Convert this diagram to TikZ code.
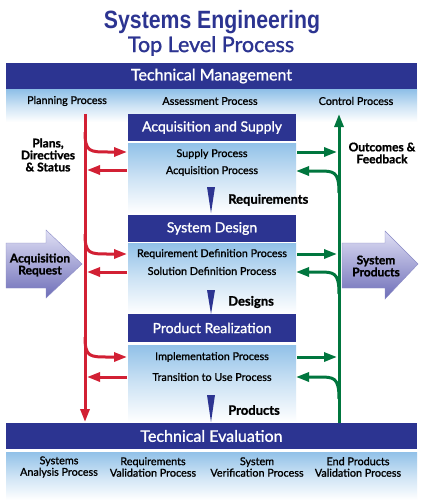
\documentclass[tikz,border=0pt]{standalone}
\usepackage{fontspec}
\setmainfont{Lato}
\newfontfamily\medfont[FakeBold=1.2]{Lato}
\newfontfamily\heavyfont[BoldFeatures={FakeBold=1.2}]{Lato}
\newfontfamily\titlefont[FakeStretch=0.85]{Liberation Sans}
\usetikzlibrary{arrows.meta}
\definecolor{hdr}{RGB}{44,52,145}
\definecolor{pnl}{RGB}{145,193,232}
\definecolor{rd}{RGB}{210,32,52}
\definecolor{gr}{RGB}{0,118,62}
\definecolor{arrlight}{RGB}{224,224,245}
\definecolor{arrdark}{RGB}{110,110,184}
\begin{document}
\begin{tikzpicture}[x=1pt,y=-1pt,
  hdrbar/.style={fill=hdr,text=white,inner sep=0pt,font=\medfont\fontsize{14}{16}\selectfont},
  panel/.style={top color=pnl,bottom color=white,middle color=pnl!45,inner sep=0pt},
  proc/.style={inner sep=0pt,font=\medfont\fontsize{10.8}{12}\selectfont},
  lbl/.style={inner sep=0pt,font=\heavyfont\bfseries\fontsize{12}{12}\selectfont},
  redarr/.style={draw=rd,line width=3pt,-{Triangle[length=13pt,width=9pt]}},
  grnarr/.style={draw=gr,line width=3pt,-{Triangle[length=13pt,width=9pt]}},
  marker/.style={fill=hdr},
  bigarrow/.style={top color=arrlight,bottom color=arrdark,draw=arrdark!80,line width=0.4pt}
]
\useasboundingbox (0,0) rectangle (427,500);
\fill[white] (0,0) rectangle (427,500);

% title
\node[inner sep=0pt,text=hdr,font=\titlefont\bfseries\fontsize{25}{28}\selectfont] (t1) at (212,22) {Systems Engineering};
\node[inner sep=0pt,text=hdr,font=\medfont\fontsize{21.5}{24}\selectfont] (t2) at (211,46) {Top Level Process};

% technical management
\node[panel,minimum width=411pt,minimum height=32pt] (tmp) at (211.5,106) {};
\node[hdrbar,minimum width=411pt,minimum height=26pt,font=\medfont\fontsize{16}{18}\selectfont] (tm) at (211.5,76) {Technical Management};
\node[proc] (pp) at (67,101) {Planning Process};
\node[proc] (ap) at (210,101) {Assessment Process};
\node[proc] (cp) at (356,101) {Control Process};

% stage panels
\node[panel,minimum width=168pt,minimum height=70pt] (acqp) at (212,178) {};
\node[panel,minimum width=168pt,minimum height=71pt] (sdp) at (212,278.5) {};
\node[panel,minimum width=168pt,minimum height=77pt] (prp) at (212,383.5) {};

\node[hdrbar,minimum width=168pt,minimum height=27pt] (acq) at (212,127.5) {Acquisition and Supply};
\node[hdrbar,minimum width=168pt,minimum height=27pt] (sd) at (212,228.5) {System Design};
\node[hdrbar,minimum width=168pt,minimum height=28pt] (pr) at (212,328) {Product Realization};

\node[proc] (sp) at (212,154) {Supply Process};
\node[proc] (aqp) at (212,171) {Acquisition Process};
\node[proc] (rdp) at (212,254) {Requirement Definition Process};
\node[proc] (sdfp) at (212,271) {Solution Definition Process};
\node[proc] (ip) at (212,357) {Implementation Process};
\node[proc] (tup) at (212,377) {Transition to Use Process};

% down markers
\fill[marker] (207,187) -- (215,187) -- (211,213) -- cycle;
\fill[marker] (207,290) -- (215,290) -- (211,314) -- cycle;
\fill[marker] (207,395) -- (215,395) -- (211,422) -- cycle;
\node[lbl,anchor=west,font=\heavyfont\bfseries\fontsize{13}{13}\selectfont] (lr) at (228,200) {Requirements};
\node[lbl,anchor=west,font=\heavyfont\bfseries\fontsize{13}{13}\selectfont] (ld) at (228,302) {Designs};
\node[lbl,anchor=west,font=\heavyfont\bfseries\fontsize{13}{13}\selectfont] (lp) at (228,410) {Products};

% technical evaluation
\node[panel,minimum width=411pt,minimum height=48pt] (tep) at (211.5,476) {};
\node[hdrbar,minimum width=411pt,minimum height=26pt,font=\medfont\fontsize{16}{18}\selectfont] (te) at (211.5,436) {Technical Evaluation};
\node[proc,align=center,font=\medfont\fontsize{10.8}{11.5}\selectfont] (e1) at (59,467) {Systems\\Analysis Process};
\node[proc,align=center,font=\medfont\fontsize{10.8}{11.5}\selectfont] (e2) at (153,467) {Requirements\\Validation Process};
\node[proc,align=center,font=\medfont\fontsize{10.8}{11.5}\selectfont] (e3) at (257,467) {System\\Verification Process};
\node[proc,align=center,font=\medfont\fontsize{10.8}{11.5}\selectfont] (e4) at (358,467) {End Products\\Validation Process};

% red flow
\coordinate (rtop) at (85,114);
\coordinate (rbot) at (85,422);
\draw[redarr] (rtop) -- (rbot);
\foreach \ya/\yb/\n in {152/170/a,254/272/b,357/377/c}{
  \coordinate (rs\n) at (85,\ya-20);
  \coordinate (re\n) at (127,\ya);
  \coordinate (ls\n) at (127,\yb);
  \coordinate (le\n) at (87,\yb);
  \draw[redarr] (rs\n) .. controls (85,\ya) and (90,\ya) .. (108,\ya) -- (re\n);
  \draw[redarr] (ls\n) -- (le\n);
}

% green flow
\coordinate (gbot) at (339,423);
\coordinate (gtop) at (339,114);
\draw[grnarr] (gbot) -- (gtop);
\foreach \ya/\yb/\n in {152/171/a,254/272/b,357/377/c}{
  \coordinate (gs\n) at (297,\ya);
  \coordinate (ge\n) at (337,\ya);
  \coordinate (hs\n) at (339,\yb+22);
  \coordinate (he\n) at (296,\yb);
  \draw[grnarr] (gs\n) -- (ge\n);
  \draw[grnarr] (hs\n) .. controls (339,\yb) and (334,\yb) .. (318,\yb) -- (he\n);
}

% side labels
\node[lbl,align=center] (pds) at (48,155) {Plans,\\Directives\\\& Status};
\node[lbl,align=center] (of) at (382,153) {Outcomes \&\\Feedback};

% big arrows
\path[bigarrow] (6,243) -- (46,243) -- (46,230) -- (82,264) -- (46,298) -- (46,288) -- (6,288) -- cycle;
\node[lbl,align=center] (areq) at (40,265) {Acquisition\\Request};
\path[bigarrow] (342,243) -- (385,243) -- (385,231) -- (418,264) -- (385,299) -- (385,288) -- (342,288) -- cycle;
\node[lbl,align=center] (sprod) at (376,266) {System\\Products};
\end{tikzpicture}
\end{document}
